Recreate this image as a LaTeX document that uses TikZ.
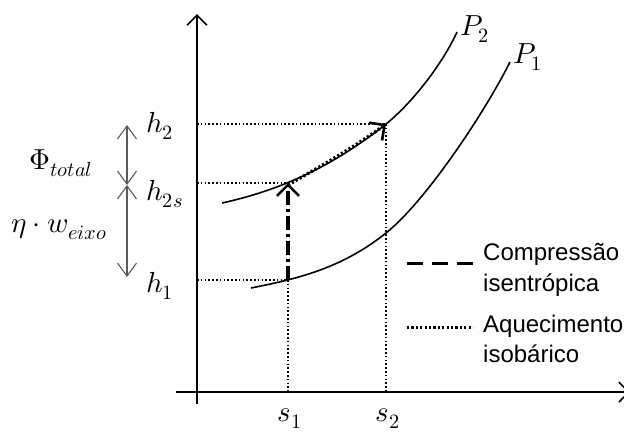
\documentclass[tikz,border=0pt]{standalone}
\usepackage{fontspec}
\usepackage{unicode-math}
\setmainfont{Liberation Sans}
\setmathfont{Latin Modern Math}
\usetikzlibrary{arrows.meta}
\begin{document}
\begin{tikzpicture}[x=1pt,y=-1pt,
  axis/.style={line width=2pt,-{Straight Barb[length=10pt,width=20pt,line width=1.6pt]}},
  curve/.style={line width=1.6pt},
  guide/.style={line width=1.6pt,dash pattern=on 1.6pt off 2.2pt},
  dimarrow/.style={line width=1.2pt,draw=black!65,{Straight Barb[length=13pt,width=19pt,line width=1.1pt]}-{Straight Barb[length=13pt,width=19pt,line width=1.1pt]}},
  mlabel/.style={font=\fontsize{29}{34}\selectfont,inner sep=0pt},
  tlabel/.style={font=\fontsize{24}{28}\selectfont,inner sep=0pt,anchor=base west},
  compress/.style={line width=3.2pt,dash pattern=on 14pt off 4pt on 3pt off 4pt},
  heat/.style={line width=3.2pt,dash pattern=on 2.2pt off 2.2pt},
  bigtip/.style={-{Straight Barb[length=11pt,width=22pt,line width=2.6pt]}}
]
\useasboundingbox (0,0) rectangle (624,432);
% axes
\coordinate (yb) at (197,404);
\coordinate (yt) at (197,14);
\coordinate (xl) at (176,392);
\coordinate (xr) at (630,392);
\draw[axis] (yb) -- (yt);
\draw[axis] (xl) -- (xr);
% key points
\coordinate (A1) at (288,280);
\coordinate (A2s) at (288,183);
\coordinate (A2) at (386,124);
\coordinate (h1a) at (197,280);
\coordinate (h2sa) at (197,183);
\coordinate (h2a) at (197,124);
\coordinate (s1a) at (288,392);
\coordinate (s2a) at (386,392);
% guides
\draw[guide] (h1a) -- (A1);
\draw[guide] (h2sa) -- (A2s);
\draw[guide] (h2a) -- (A2);
\draw[guide] (A1) -- (s1a);
\draw[guide] (A2) -- (s2a);
% isobars
\draw[curve] (222,203) .. controls (277,191) and (331,168) .. (A2)
   .. controls (411,104) and (442,65) .. (457,32);
\draw[curve] (251,288) .. controls (296,279) and (341,269) .. (386,233)
   .. controls (426,201) and (485,112) .. (510,62);
% process arrows
\draw[compress,bigtip] (A1) -- (A2s);
\draw[heat,bigtip] ([yshift=-2pt]A2s) .. controls (321,166) and (353,148) .. (A2);
% labels
\node[mlabel,anchor=base west] (P2) at (460,35) {$P_2$};
\node[mlabel,anchor=base west] (P1) at (513,63) {$P_1$};
\node[mlabel,anchor=base west] (lh2) at (146,132) {$h_2$};
\node[mlabel,anchor=base west] (lh2s) at (146,200) {$h_{2s}$};
\node[mlabel,anchor=base west] (lh1) at (146,292) {$h_1$};
\node[mlabel,anchor=base] (ls1) at (290,421) {$s_1$};
\node[mlabel,anchor=base] (ls2) at (388,421) {$s_2$};
\node[mlabel] (lphi) at (61,163) {$\Phi_{total}$};
\node[mlabel] (leta) at (59,230) {$\eta\cdot w_{eixo}$};
% dimension arrows
\coordinate (d2) at (127,125);
\coordinate (d2s) at (127,185);
\coordinate (d1) at (127,277);
\draw[dimarrow] (d2) -- (d2s);
\draw[dimarrow] (d2s) -- (d1);
% legend
\coordinate (la1) at (407,263);
\coordinate (lb1) at (473,263);
\coordinate (la2) at (407,327);
\coordinate (lb2) at (473,327);
\draw[line width=3pt,dash pattern=on 16pt off 9pt] (la1) -- (lb1);
\draw[line width=3pt,dash pattern=on 2.2pt off 2.2pt] (la2) -- (lb2);
\node[tlabel] (t1) at (483,260) {Compressão};
\node[tlabel] (t2) at (483,291) {isentrópica};
\node[tlabel] (t3) at (483,332) {Aquecimento};
\node[tlabel] (t4) at (483,362) {isobárico};
\end{tikzpicture}
\end{document}
